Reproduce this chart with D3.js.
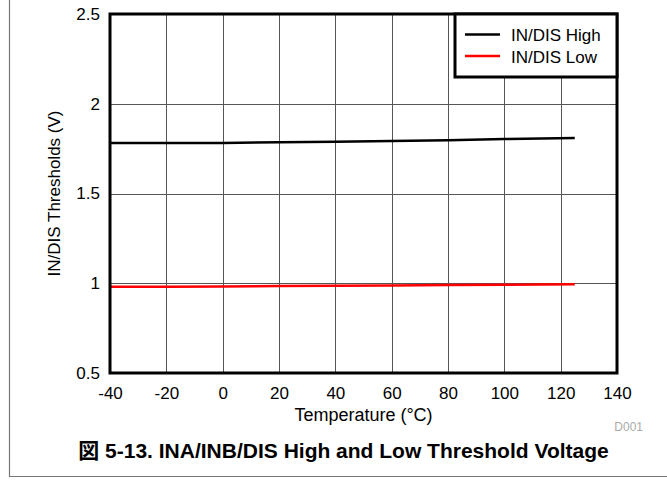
<!DOCTYPE html>
<html>
<head>
<meta charset="utf-8">
<script src="https://cdn.jsdelivr.net/npm/d3@7"></script>
<style>
  body { margin: 0; background: #fff; }
  svg { display: block; font-family: "Liberation Sans", Arial, sans-serif; }
</style>
</head>
<body>
<svg id="chart" width="667" height="480"></svg>
<script>
// Temperature sweep points (°C)
const temps = [-40, -20, 0, 20, 40, 60, 80, 100, 125];
// Input / disable threshold voltages (V)
const highThreshold = [1.781, 1.781, 1.782, 1.785, 1.788, 1.792, 1.797, 1.803, 1.809];
const lowThreshold  = [0.980, 0.981, 0.982, 0.984, 0.986, 0.988, 0.990, 0.992, 0.995];
const xTicks = [-40, -20, 0, 20, 40, 60, 80, 100, 120, 140];
const yTicks = [0.5, 1, 1.5, 2, 2.5];
const seriesNames = ["IN/DIS High", "IN/DIS Low"];
const seriesColors = ["#000000", "#ff0000"];

const svg = d3.select("#chart");
const plotL = 110, plotR = 617, plotT = 14, plotB = 373;
const font = "'Liberation Sans', Arial, sans-serif";

const x = d3.scaleLinear().domain([-40, 140]).range([plotL, plotR]);
const y = d3.scaleLinear().domain([0.5, 2.5]).range([plotB, plotT]);

// outer figure frame (left and bottom edges)
svg.append("path").attr("d", "M9.5,0V476.5H667")
  .attr("fill", "none").attr("stroke", "#777").attr("stroke-width", 1.2);

// grid
const grid = svg.append("g");
grid.selectAll(".vg").data(xTicks.slice(1, -1)).join("line")
  .attr("x1", d => Math.round(x(d)) + 0.5).attr("x2", d => Math.round(x(d)) + 0.5)
  .attr("y1", plotT).attr("y2", plotB)
  .attr("stroke", "#555").attr("stroke-width", 1);
grid.selectAll(".hg").data(yTicks.slice(1, -1)).join("line")
  .attr("x1", plotL).attr("x2", plotR)
  .attr("y1", d => Math.round(y(d)) + 0.5).attr("y2", d => Math.round(y(d)) + 0.5)
  .attr("stroke", "#555").attr("stroke-width", 1);

// data lines
const line = d3.line().x(d => x(d[0])).y(d => y(d[1]));
[highThreshold, lowThreshold].forEach((vals, i) => {
  svg.append("path")
    .datum(temps.map((t, k) => [t, vals[k]]))
    .attr("d", line)
    .attr("fill", "none")
    .attr("stroke", seriesColors[i])
    .attr("stroke-width", 2.5);
});

// plot border
svg.append("rect").attr("x", plotL).attr("y", plotT)
  .attr("width", plotR - plotL).attr("height", plotB - plotT)
  .attr("fill", "none").attr("stroke", "#000").attr("stroke-width", 3);

// axes (labels only)
const xAxis = svg.append("g").attr("transform", `translate(0,${plotB})`)
  .call(d3.axisBottom(x).tickValues(xTicks).tickSize(0).tickPadding(14).tickFormat(d => String(d)));
const yAxis = svg.append("g").attr("transform", `translate(${plotL},0)`)
  .call(d3.axisLeft(y).tickValues(yTicks).tickSize(0).tickPadding(10).tickFormat(d => String(d)));
[xAxis, yAxis].forEach(a => {
  a.select(".domain").remove();
  a.selectAll("text").attr("font-size", 17).attr("fill", "#000").attr("font-family", font);
});

// axis titles
svg.append("text").attr("x", (plotL + plotR) / 2).attr("y", 421)
  .attr("text-anchor", "middle").attr("font-size", 18).text("Temperature (°C)");
svg.append("text")
  .attr("transform", `translate(60,${(plotT + plotB) / 2}) rotate(-90)`)
  .attr("text-anchor", "middle").attr("font-size", 17).text("IN/DIS Thresholds (V)");

// legend
const lg = svg.append("g");
lg.append("rect").attr("x", 455).attr("y", plotT).attr("width", plotR - 455).attr("height", 63)
  .attr("fill", "#fff").attr("stroke", "#000").attr("stroke-width", 3);
seriesNames.forEach((name, i) => {
  const ly = 34.5 + i * 21.5;
  lg.append("line").attr("x1", 465).attr("x2", 500).attr("y1", ly).attr("y2", ly)
    .attr("stroke", seriesColors[i]).attr("stroke-width", 2.5);
  lg.append("text").attr("x", 511).attr("y", ly + 6.5).attr("font-size", 17).text(name);
});

// figure id and caption
svg.append("text").attr("x", 643).attr("y", 431).attr("text-anchor", "end")
  .attr("font-size", 12).attr("fill", "#aaa").text("D001");
svg.append("text").attr("x", 343.5).attr("y", 458).attr("text-anchor", "middle")
  .attr("font-size", 21).attr("font-weight", "bold")
  .attr("font-family", "'Liberation Sans', 'Noto Sans CJK JP', sans-serif")
  .text("図 5-13. INA/INB/DIS High and Low Threshold Voltage");
</script>
</body>
</html>
